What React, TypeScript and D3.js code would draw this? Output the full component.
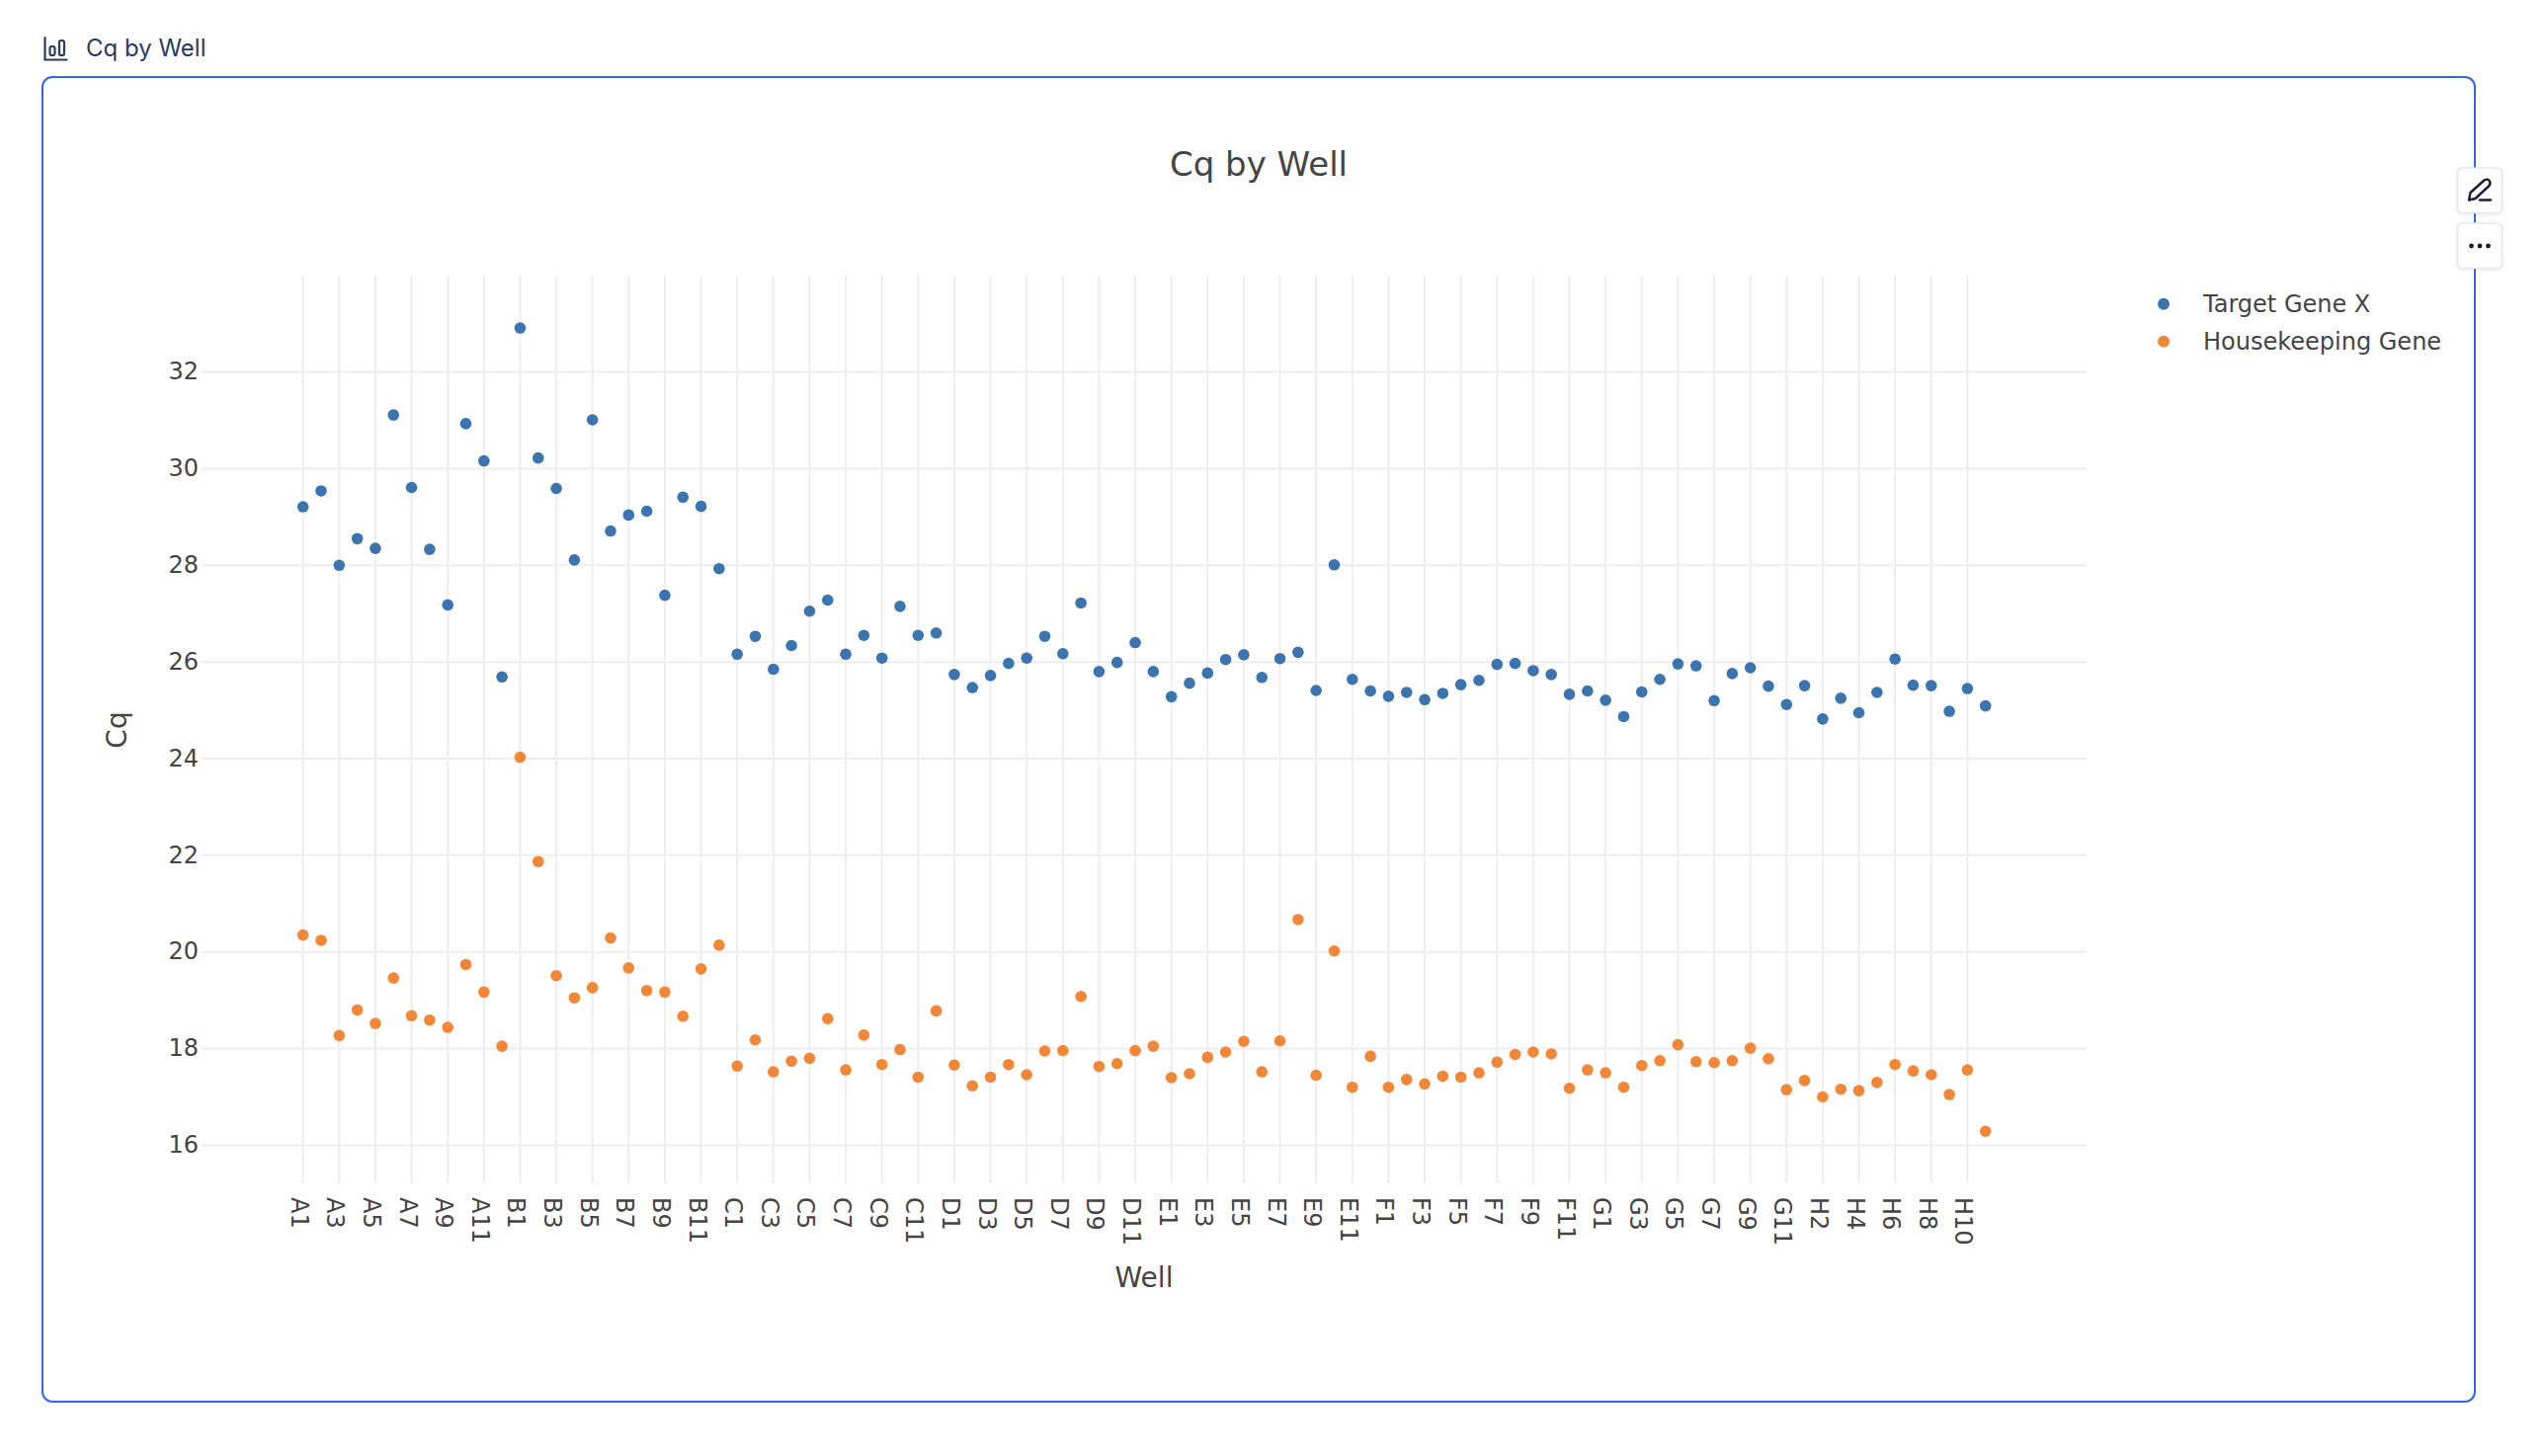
import React, { useEffect, useRef } from 'react';
import * as d3 from 'd3';

const WELLS = [
  'A1', 'A2', 'A3', 'A4', 'A5', 'A6', 'A7', 'A8', 'A9', 'A10', 'A11', 'A12',
  'B1', 'B2', 'B3', 'B4', 'B5', 'B6', 'B7', 'B8', 'B9', 'B10', 'B11', 'B12',
  'C1', 'C2', 'C3', 'C4', 'C5', 'C6', 'C7', 'C8', 'C9', 'C10', 'C11', 'C12',
  'D1', 'D2', 'D3', 'D4', 'D5', 'D6', 'D7', 'D8', 'D9', 'D10', 'D11', 'D12',
  'E1', 'E2', 'E3', 'E4', 'E5', 'E6', 'E7', 'E8', 'E9', 'E10', 'E11', 'E12',
  'F1', 'F2', 'F3', 'F4', 'F5', 'F6', 'F7', 'F8', 'F9', 'F10', 'F11', 'F12',
  'G1', 'G2', 'G3', 'G4', 'G5', 'G6', 'G7', 'G8', 'G9', 'G10', 'G11', 'G12',
  'H2', 'H3', 'H4', 'H5', 'H6', 'H7', 'H8', 'H9', 'H10', 'H11',
];

const TARGET_GENE = [
  29.21, 29.54, 28.0, 28.55, 28.35, 31.11, 29.61, 28.33, 27.18, 30.93, 30.16, 25.69,
  32.91, 30.22, 29.59, 28.11, 31.01, 28.71, 29.04, 29.12, 27.38, 29.41, 29.22, 27.93,
  26.16, 26.53, 25.85, 26.34, 27.05, 27.28, 26.16, 26.55, 26.08, 27.15, 26.55, 26.6,
  25.74, 25.47, 25.72, 25.97, 26.08, 26.53, 26.17, 27.22, 25.8, 25.99, 26.4, 25.8,
  25.28, 25.56, 25.77, 26.05, 26.15, 25.68, 26.07, 26.2, 25.41, 28.01, 25.64, 25.4,
  25.29, 25.37, 25.22, 25.35, 25.53, 25.62, 25.95, 25.97, 25.82, 25.74, 25.33, 25.4,
  25.21, 24.87, 25.38, 25.64, 25.96, 25.92, 25.2, 25.76, 25.88, 25.5, 25.12, 25.51,
  24.82, 25.25, 24.95, 25.37, 26.06, 25.52, 25.51, 24.98, 25.45, 25.09,
];

const HOUSEKEEPING_GENE = [
  20.35, 20.24, 18.27, 18.8, 18.52, 19.46, 18.68, 18.59, 18.44, 19.74, 19.17, 18.05,
  24.03, 21.87, 19.51, 19.05, 19.26, 20.29, 19.67, 19.2, 19.17, 18.67, 19.65, 20.14,
  17.64, 18.18, 17.52, 17.74, 17.8, 18.62, 17.56, 18.28, 17.67, 17.98, 17.41, 18.78,
  17.66, 17.23, 17.41, 17.67, 17.46, 17.95, 17.96, 19.08, 17.63, 17.69, 17.96, 18.05,
  17.4, 17.48, 17.82, 17.93, 18.15, 17.52, 18.16, 20.67, 17.45, 20.02, 17.2, 17.84,
  17.2, 17.36, 17.27, 17.43, 17.41, 17.5, 17.72, 17.88, 17.93, 17.89, 17.18, 17.56,
  17.5, 17.2, 17.65, 17.75, 18.08, 17.73, 17.71, 17.75, 18.01, 17.79, 17.15, 17.34,
  17.0, 17.16, 17.13, 17.3, 17.67, 17.54, 17.46, 17.05, 17.56, 16.29,
];

const Y_TICKS = [16, 18, 20, 22, 24, 26, 28, 30, 32];

const SERIES = [
  { name: 'Target Gene X', values: TARGET_GENE, color: '#3b74af' },
  { name: 'Housekeeping Gene', values: HOUSEKEEPING_GENE, color: '#f28737' },
];

const WIDTH = 2576;
const HEIGHT = 1474;
const PLOT = { left: 204, right: 2112, top: 279, bottom: 1198 };

const GRID = '#eeeeee';
const TEXT = '#444444';
const BORDER = '#3563e9';
const NAVY = '#2d3a5e';
const FONT = '"DejaVu Sans", sans-serif';

const App: React.FC = () => {
  const svgRef = useRef<SVGSVGElement>(null);

  useEffect(() => {
    if (!svgRef.current) return;
    const svg = d3.select(svgRef.current);
    svg.selectAll('*').remove();

    const x = d3.scalePoint<string>().domain(WELLS).range([306.7, 2009.7]);
    const y = d3.scaleLinear().domain([15.22, 34]).range([PLOT.bottom - 0.4, PLOT.top - 0.3]);

    // page header above the card
    const icon = svg.append('g').attr('fill', 'none').attr('stroke', NAVY).attr('stroke-width', 2.2);
    icon.append('path').attr('d', 'M45.5 38V60.5H67.5').attr('stroke-linecap', 'round');
    icon.append('rect').attr('x', 50.5).attr('y', 47).attr('width', 5).attr('height', 9).attr('rx', 2);
    icon.append('rect').attr('x', 60).attr('y', 41).attr('width', 5).attr('height', 15).attr('rx', 2);
    svg
      .append('text')
      .attr('x', 87)
      .attr('y', 57)
      .attr('font-family', 'Inter, sans-serif')
      .attr('font-size', 24)
      .attr('fill', NAVY)
      .text('Cq by Well');

    svg
      .append('rect')
      .attr('x', 43)
      .attr('y', 78)
      .attr('width', 2462)
      .attr('height', 1341)
      .attr('rx', 10)
      .attr('fill', '#fff')
      .attr('stroke', BORDER)
      .attr('stroke-width', 2);

    const xAxis = svg
      .append('g')
      .attr('transform', `translate(0,${PLOT.bottom})`)
      .call(
        d3
          .axisBottom(x)
          .tickValues(WELLS.filter((_d, i) => i % 2 === 0))
          .tickSize(-(PLOT.bottom - PLOT.top))
          .tickPadding(0)
          .offset(0),
      );
    xAxis.select('.domain').remove();
    xAxis.selectAll('line').attr('stroke', GRID).attr('stroke-width', 2);
    xAxis
      .selectAll('text')
      .attr('transform', 'translate(-12,14) rotate(90)')
      .attr('x', 0)
      .attr('y', 0)
      .attr('dy', 0)
      .attr('text-anchor', 'start')
      .attr('font-family', FONT)
      .attr('font-size', 24)
      .attr('fill', TEXT);

    const yAxis = svg
      .append('g')
      .attr('transform', `translate(${PLOT.left},0)`)
      .call(
        d3
          .axisLeft(y)
          .tickValues(Y_TICKS)
          .tickSize(-(PLOT.right - PLOT.left))
          .tickPadding(3)
          .offset(0),
      );
    yAxis.select('.domain').remove();
    yAxis.selectAll('line').attr('stroke', GRID).attr('stroke-width', 2);
    yAxis
      .selectAll('text')
      .attr('font-family', FONT)
      .attr('font-size', 24)
      .attr('fill', TEXT);

    SERIES.forEach(s => {
      svg
        .append('g')
        .selectAll('circle')
        .data(s.values)
        .enter()
        .append('circle')
        .attr('cx', (_d, i) => x(WELLS[i]) || 0)
        .attr('cy', d => y(d))
        .attr('r', 5.8)
        .attr('fill', s.color);
    });

    const label = (tx: number, ty: number, size: number, text: string) =>
      svg
        .append('text')
        .attr('x', tx)
        .attr('y', ty)
        .attr('font-family', FONT)
        .attr('font-size', size)
        .attr('fill', TEXT)
        .text(text);

    label(1274, 178, 34, 'Cq by Well').attr('text-anchor', 'middle');
    label(1158, 1303, 28, 'Well').attr('text-anchor', 'middle');
    label(0, 0, 28, 'Cq')
      .attr('text-anchor', 'middle')
      .attr('transform', 'translate(128,739) rotate(-90)');

    // legend
    SERIES.forEach((s, i) => {
      const ly = 307.7 + i * 38;
      svg.append('circle').attr('cx', 2190).attr('cy', ly).attr('r', 6).attr('fill', s.color);
      label(2230, ly + 8.5, 24, s.name);
    });

    // hover toolbar on the card's right edge
    const shadow = svg.append('defs').append('filter').attr('id', 'btn-shadow');
    shadow
      .append('feDropShadow')
      .attr('dx', 0)
      .attr('dy', 1)
      .attr('stdDeviation', 1.5)
      .attr('flood-color', '#000')
      .attr('flood-opacity', 0.12);
    [170, 226].forEach(by => {
      svg
        .append('rect')
        .attr('x', 2487.5)
        .attr('y', by)
        .attr('width', 45)
        .attr('height', 45.5)
        .attr('rx', 5)
        .attr('fill', '#fff')
        .attr('stroke', '#e5e7eb')
        .attr('stroke-width', 1.5)
        .attr('filter', 'url(#btn-shadow)');
    });
    svg
      .append('path')
      .attr('d', 'M2499 202.5L2500.5 195L2514.5 182.5C2516.5 181 2519 181.5 2520 183.5C2521 185.5 2520.5 187 2519 188.5L2505.5 201Z')
      .attr('fill', 'none')
      .attr('stroke', '#1a1d3a')
      .attr('stroke-width', 2.4)
      .attr('stroke-linejoin', 'round');
    svg
      .append('path')
      .attr('d', 'M2510 202.5H2521')
      .attr('stroke', '#1a1d3a')
      .attr('stroke-width', 2.4)
      .attr('stroke-linecap', 'round');
    [2501.5, 2510, 2518.5].forEach(cx => {
      svg.append('circle').attr('cx', cx).attr('cy', 249).attr('r', 2.4).attr('fill', '#1a1d3a');
    });
  }, []);

  return (
    <svg
      ref={svgRef}
      width={WIDTH}
      height={HEIGHT}
      viewBox={`0 0 ${WIDTH} ${HEIGHT}`}
      style={{ position: 'absolute', left: 0, top: 0, display: 'block', background: '#fff' }}
    />
  );
};

export default App;
